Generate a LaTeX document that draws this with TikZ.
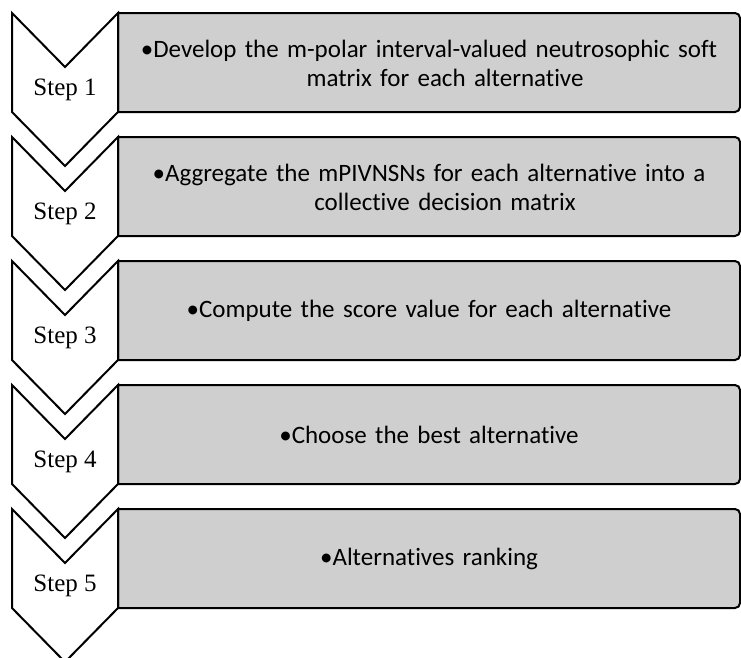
\documentclass[tikz,border=0pt]{standalone}
\usepackage{fontspec}
\setmainfont{Liberation Serif}
\newfontfamily\boxfont[Ligatures=NoCommon]{Carlito}
\begin{document}
\begin{tikzpicture}[x=1pt,y=-1pt,
  chev/.style={draw=black,fill=white,line width=2pt,line join=miter},
  panel/.style={draw=black,fill=black!19,line width=2pt},
  steplabel/.style={font=\fontsize{25}{30}\selectfont,inner sep=0pt},
  paneltext/.style={font=\boxfont\fontsize{25}{29}\selectfont,align=center,inner sep=0pt,text width=620pt}]
\useasboundingbox (0,0) rectangle (741,657);
\foreach \i/\t/\txt in {1/13/{•Develop the m-polar interval-valued neutrosophic soft\\\hspace*{32pt}matrix for each alternative},
                        2/137/{•Aggregate the mPIVNSNs for each alternative into a\\\hspace*{32pt}collective decision matrix},
                        3/261/{•Compute the score value for each alternative},
                        4/385/{•Choose the best alternative},
                        5/509/{•Alternatives ranking}}{
  \draw[panel] (118,\t) [rounded corners=5pt] -- (740,\t) -- (740,\t+99) [sharp corners] -- (118,\t+99) -- cycle;
  \node[paneltext] (box\i) at (429,\t+50) {\txt};
  \draw[chev] (12,\t) -- (65,\t+54) -- (118,\t) -- (118,\t+99) -- (65,\t+153) -- (12,\t+99) -- cycle;
  \node[steplabel] (step\i) at (65,\t+77) {Step \i};
}
\end{tikzpicture}
\end{document}
